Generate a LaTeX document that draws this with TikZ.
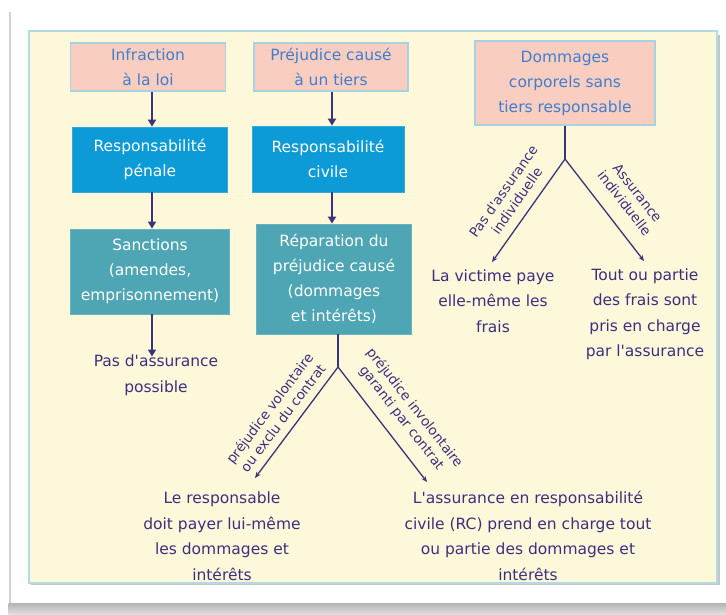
\documentclass[tikz,border=0pt]{standalone}
\usepackage{fontspec}
\newfontfamily\dv{DejaVu Sans}
\usetikzlibrary{arrows.meta}
\definecolor{bgyellow}{HTML}{FDF8D9}
\definecolor{bordblue}{HTML}{B3DAE2}
\definecolor{pinkc}{HTML}{F9CDBF}
\definecolor{pinkbord}{HTML}{A6D2E4}
\definecolor{pinktext}{HTML}{3F7FCF}
\definecolor{bluec}{HTML}{0D9BD7}
\definecolor{tealc}{HTML}{4EA6B5}
\definecolor{purp}{HTML}{3C2F80}
\definecolor{arrc}{HTML}{3B3478}
\begin{document}
\begin{tikzpicture}[x=1pt,y=-1pt,
  boxfont/.style={font=\dv\fontsize{15.5}{25}\selectfont},
  pinkbox/.style={boxfont, fill=pinkc, draw=pinkbord, line width=1.2pt, text=pinktext, align=center, inner sep=0pt},
  bluebox/.style={boxfont, fill=bluec, draw=bluec!85!white, line width=0.8pt, text=white, align=center, inner sep=0pt},
  tealbox/.style={boxfont, fill=tealc, draw=tealc!85!white, line width=0.8pt, text=white, align=center, inner sep=0pt},
  txt/.style={font=\dv\fontsize{15.5}{25.5}\selectfont, text=purp, align=center, inner sep=0pt},
  lab/.style={font=\dv\fontsize{13.5}{16.5}\selectfont, text=purp, align=center, inner sep=0pt},
  arr/.style={draw=arrc, line width=2pt, -{Triangle[length=7pt,width=8pt]}},
  darr/.style={draw=arrc, line width=1.3pt, -{Stealth[length=6pt,width=5pt]}},
  plain/.style={draw=arrc, line width=1.3pt}
]
\useasboundingbox (0,0) rectangle (726,614);
\fill[white] (0,0) rectangle (726,614);
% card shadow
\fill[gray!35] (8.5,12) rectangle (11,603);
\shade[top color=gray!60, bottom color=gray!25] (8.5,603) rectangle (726,614);
% yellow panel
\fill[gray!45] (31,35) rectangle (719.5,585);
\filldraw[fill=bgyellow, draw=bordblue, line width=1.5pt] (29,31) rectangle (717,583);

% column axes
\coordinate (c1) at (152,0);
\coordinate (c2) at (332,0);

% left column
\node[pinkbox, minimum width=155pt, minimum height=48pt] (inf) at (148,67) {Infraction\\à la loi};
\node[bluebox, minimum width=155pt, minimum height=65pt] (pen) at (150,159.5) {Responsabilité\\pénale};
\node[tealbox, minimum width=159pt, minimum height=85pt] (sanc) at (150,271.5) {Sanctions\\(amendes,\\emprisonnement)};
\node[txt] (pas) at (156,375) {Pas d'assurance\\possible};

% middle column
\node[pinkbox, minimum width=154pt, minimum height=48pt] (prej) at (331,67) {Préjudice causé\\à un tiers};
\node[bluebox, minimum width=152pt, minimum height=66pt] (civ) at (328,159) {Responsabilité\\civile};
\node[tealbox, minimum width=155pt, minimum height=110pt] (rep) at (334,279) {Réparation du\\préjudice causé\\(dommages\\et intérêts)};
\node[txt] (resp) at (222,536) {Le responsable\\doit payer lui-même\\les dommages et\\intérêts};
\node[txt] (rc) at (528,536) {L'assurance en responsabilité\\civile (RC) prend en charge tout\\ou partie des dommages et\\intérêts};

% right column
\node[pinkbox, minimum width=180pt, minimum height=84pt] (dom) at (565,83) {Dommages\\corporels sans\\tiers responsable};
\node[txt] (vict) at (493,301) {La victime paye\\elle-même les\\frais};
\node[txt] (tout) at (645,314) {Tout ou partie\\des frais sont\\pris en charge\\par l'assurance};

% vertical arrows
\draw[arr] (inf.south -| c1) -- (pen.north -| c1);
\draw[arr] (pen.south -| c1) -- (sanc.north -| c1);
\draw[arr] (sanc.south -| c1) -- ([yshift=-2pt]pas.north -| c1);
\draw[arr] (prej.south -| c2) -- (civ.north -| c2);
\draw[arr] (civ.south -| c2) -- (rep.north -| c2);

% branch under réparation
\coordinate (j1) at (338,367);
\coordinate (t1) at (255,478);
\coordinate (t2) at (427,482);
\draw[plain] (rep.south -| j1) -- (j1);
\draw[darr] (j1) -- (t1);
\draw[darr] (j1) -- (t2);
\node[lab, rotate=53] (l1) at (276,413) {préjudice volontaire\\ou exclu du contrat};
\node[lab, rotate=-52] (l2) at (408,413) {préjudice involontaire\\garanti par contrat};

% branch under dommages
\coordinate (j2) at (565,159);
\coordinate (t3) at (492,262);
\coordinate (t4) at (644,261);
\draw[plain] (dom.south -| j2) -- (j2);
\draw[darr] (j2) -- (t3);
\draw[darr] (j2) -- (t4);
\node[lab, rotate=55] (l3) at (510,196) {Pas d'assurance\\individuelle};
\node[lab, rotate=-52] (l4) at (631,198) {Assurance\\individuelle};
\end{tikzpicture}
\end{document}
